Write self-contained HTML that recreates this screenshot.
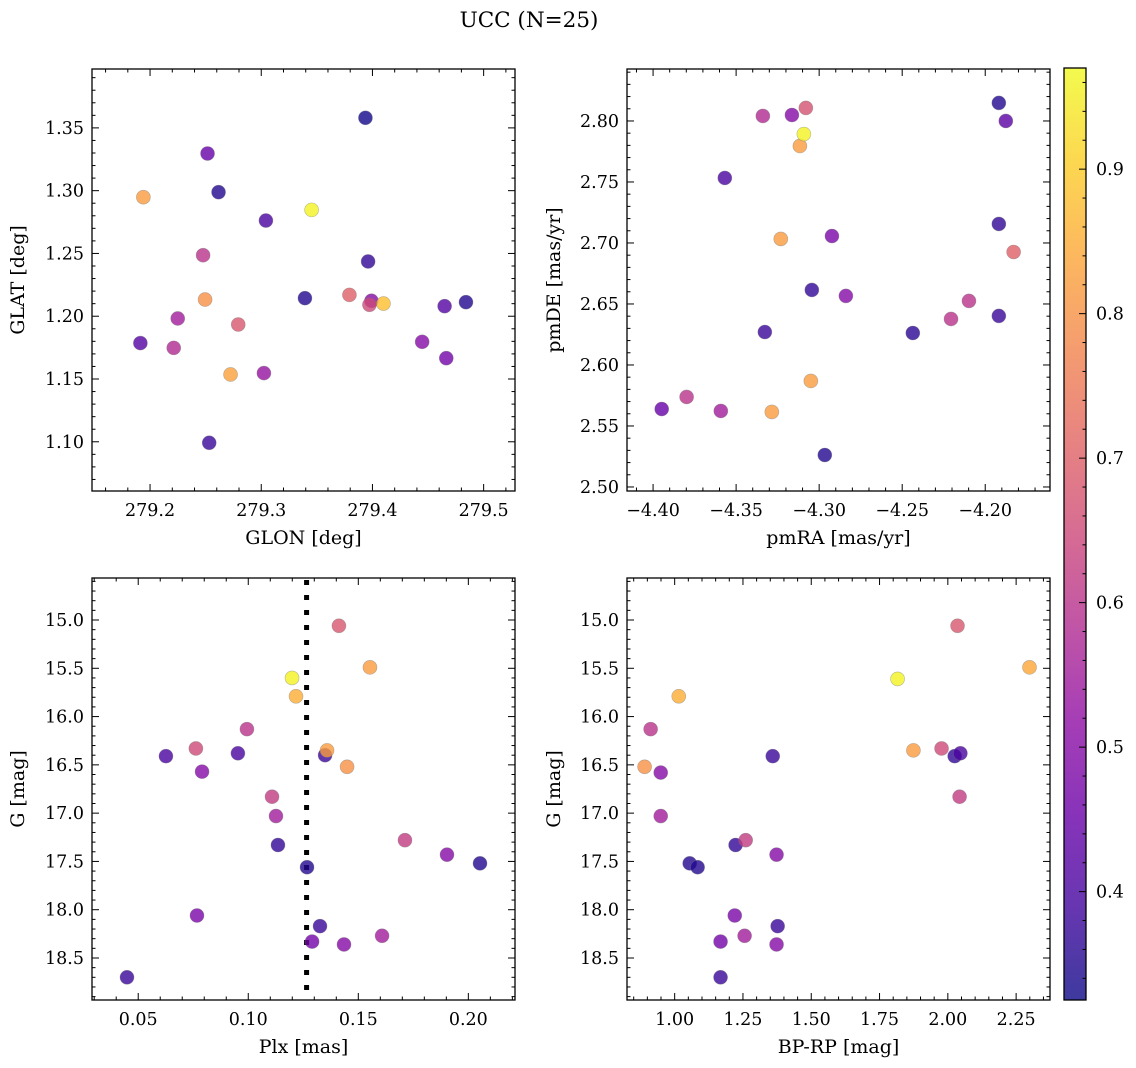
<!DOCTYPE html>
<html><head><meta charset="utf-8">
<style>
html,body{margin:0;padding:0;background:#fff;}
svg{display:block;font-family:"DejaVu Serif","Liberation Serif",serif;}
</style></head>
<body>
<svg id="fig" width="1136" height="1068" viewBox="0 0 1136 1068" xmlns="http://www.w3.org/2000/svg">
<text x="529" y="27" font-size="21.5" text-anchor="middle">UCC (N=25)</text>
</svg>
<script>
// ---- data ----
const glon = [279.3937,279.2517,279.2616,279.1940,279.3453,279.3042,279.2477,279.3961,279.2495,279.3393,279.3793,279.3991,279.3973,279.4099,279.4649,279.4841,279.2249,279.2793,279.1913,279.2213,279.4447,279.2724,279.3024,279.4664,279.2532];
const glat = [1.358,1.3296,1.2988,1.2948,1.2847,1.2762,1.2486,1.2436,1.2133,1.2144,1.2170,1.2123,1.2091,1.2101,1.2080,1.2112,1.1982,1.1934,1.1786,1.1748,1.1796,1.1536,1.1547,1.1666,1.0992];
const probA = [0.33,0.45,0.35,0.82,0.96,0.40,0.60,0.37,0.80,0.35,0.70,0.50,0.65,0.88,0.42,0.35,0.55,0.68,0.42,0.58,0.50,0.83,0.53,0.47,0.38];

const pmra = [-4.1918,-4.1876,-4.3080,-4.3164,-4.3339,-4.3092,-4.3116,-4.3568,-4.1918,-4.2923,-4.3231,-4.1829,-4.3044,-4.2839,-4.2098,-4.2206,-4.3327,-4.2436,-4.1918,-4.3050,-4.3285,-4.3948,-4.3798,-4.3592,-4.2966];
const pmde = [2.8148,2.800,2.8107,2.8049,2.8041,2.7893,2.7795,2.7533,2.7156,2.7057,2.7033,2.6926,2.6615,2.6566,2.6525,2.6377,2.6270,2.6262,2.6402,2.5869,2.5615,2.5639,2.5738,2.5623,2.5262];
const probB = [0.35,0.43,0.67,0.50,0.58,0.96,0.82,0.40,0.37,0.48,0.82,0.70,0.37,0.50,0.60,0.60,0.38,0.36,0.38,0.82,0.82,0.45,0.60,0.55,0.35];

const plx = [0.1412,0.1553,0.1199,0.1217,0.0994,0.0626,0.0762,0.0953,0.1358,0.1349,0.1449,0.0790,0.1108,0.1126,0.1135,0.1712,0.1903,0.2053,0.1267,0.0767,0.1326,0.1290,0.1435,0.1608,0.0449];
const gmagC = [15.06,15.49,15.60,15.79,16.13,16.41,16.33,16.38,16.35,16.40,16.52,16.57,16.83,17.03,17.33,17.28,17.43,17.52,17.56,18.06,18.17,18.33,18.36,18.27,18.70];
const probC = [0.68,0.82,0.96,0.85,0.60,0.40,0.65,0.40,0.82,0.38,0.80,0.50,0.62,0.55,0.37,0.62,0.50,0.35,0.35,0.48,0.38,0.47,0.50,0.55,0.38];
const plxLine = [0.1265];

const bprp = [2.299,2.0355,1.816,1.015,0.912,0.890,0.949,0.949,1.359,1.874,1.977,2.046,2.025,2.043,1.260,1.223,1.373,1.055,1.084,1.220,1.377,1.256,1.168,1.373,1.168];
const gmagD = [15.49,15.06,15.61,15.79,16.13,16.52,16.58,17.03,16.41,16.35,16.33,16.38,16.41,16.83,17.28,17.33,17.43,17.52,17.56,18.06,18.17,18.27,18.33,18.36,18.70];
const probD = [0.84,0.68,0.96,0.85,0.60,0.80,0.50,0.55,0.38,0.82,0.65,0.40,0.37,0.62,0.62,0.37,0.50,0.35,0.35,0.48,0.38,0.55,0.47,0.50,0.38];

const cbTicks = [0.4,0.5,0.6,0.7,0.8,0.9];

// ---- helpers ----
const NS="http://www.w3.org/2000/svg";
const svg=document.getElementById('fig');
const VMIN=0.325, VMAX=0.970;
const TICKFS=17.5, LABFS=19;
const plasma=[[13,8,135],[65,4,157],[106,0,168],[143,13,164],[177,42,144],[204,71,120],[225,100,98],[242,132,75],[252,166,54],[252,206,37],[240,249,33]];
function cmap(v){
  let t=(v-VMIN)/(VMAX-VMIN); t=Math.max(0,Math.min(1,t));
  const f=t*10, i=Math.min(9,Math.floor(f)), r=f-i;
  const a=plasma[i], b=plasma[i+1];
  return 'rgb('+[0,1,2].map(k=>Math.round(a[k]+(b[k]-a[k])*r)).join(',')+')';
}
function el(tag,attrs,parent){
  const e=document.createElementNS(NS,tag);
  for(const k in attrs) e.setAttribute(k,attrs[k]);
  (parent||svg).appendChild(e); return e;
}
function fmt(v,d){ const s=v.toFixed(d); return s.replace('-','\u2212'); }

function panel(cfg){
  const g=el('g',{});
  
  
  const {x0,x1,y0,y1}=cfg.box;
  const sx=v=>x0+(v-cfg.xlim[0])/(cfg.xlim[1]-cfg.xlim[0])*(x1-x0);
  const sy=cfg.yinv ? (v=>y0+(v-cfg.ylim[0])/(cfg.ylim[1]-cfg.ylim[0])*(y1-y0))
                    : (v=>y1-(v-cfg.ylim[0])/(cfg.ylim[1]-cfg.ylim[0])*(y1-y0));
  const tg=el('g',{stroke:'#000','stroke-width':1},g);
  
  
  const xmin=Math.min(...cfg.xlim), xmax=Math.max(...cfg.xlim);
  for(let k=Math.ceil(xmin/cfg.xminor-1e-6);k*cfg.xminor<=xmax+1e-9;k++){
    const v=k*cfg.xminor, px=sx(v);
    const isMaj=Math.abs(v/cfg.xmajor-Math.round(v/cfg.xmajor))<1e-6;
    const L=isMaj?7:3.5;
    el('line',{x1:px,x2:px,y1:y1,y2:y1-L},tg); el('line',{x1:px,x2:px,y1:y0,y2:y0+L},tg);
    if(isMaj){
      const t=el('text',{x:px,y:y1+25,'font-size':TICKFS,'text-anchor':'middle',stroke:'none',fill:'#000'},g);
       
      t.textContent=fmt(v,cfg.xdec);
    }
  }
  const ymin=Math.min(...cfg.ylim), ymax=Math.max(...cfg.ylim);
  for(let k=Math.ceil(ymin/cfg.yminor-1e-6);k*cfg.yminor<=ymax+1e-9;k++){
    const v=k*cfg.yminor, py=sy(v);
    const isMaj=Math.abs(v/cfg.ymajor-Math.round(v/cfg.ymajor))<1e-6;
    const L=isMaj?7:3.5;
    el('line',{x1:x0,x2:x0+L,y1:py,y2:py},tg); el('line',{x1:x1,x2:x1-L,y1:py,y2:py},tg);
    if(isMaj){
      const t=el('text',{x:x0-8,y:py+6,'font-size':TICKFS,'text-anchor':'end',fill:'#000'},g);
       
      t.textContent=fmt(v,cfg.ydec);
    }
  }
  if(cfg.vline){
    const l=el('line',{x1:sx(cfg.vline[0]),x2:sx(cfg.vline[0]),y1:y0,y2:y1,stroke:'#000','stroke-width':5,'stroke-dasharray':'5 10','stroke-dashoffset':-2},g);
     
  }
  const pg=el('g',{},g);
  
  
  const order=cfg.c.map((c,i)=>i).sort((a,b)=>cfg.c[a]-cfg.c[b]);
  order.forEach(i=>{
    const c=el('circle',{cx:sx(cfg.x[i]),cy:sy(cfg.y[i]),r:7,fill:cmap(cfg.c[i]),'fill-opacity':0.8,stroke:'#777','stroke-opacity':0.5,'stroke-width':0.6},pg);
    
    
  });
  const fr=el('rect',{x:x0,y:y0,width:x1-x0,height:y1-y0,fill:'none',stroke:'#000','stroke-width':1.3},g);
   
  const xl=el('text',{x:(x0+x1)/2,y:y1+53,'font-size':LABFS,'text-anchor':'middle'},g);
   
  xl.textContent=cfg.xlabel;
  const yl=el('text',{x:0,y:0,'font-size':LABFS,'text-anchor':'middle',transform:'translate('+cfg.ylx+','+((y0+y1)/2)+') rotate(-90)'},g);
   
  yl.textContent=cfg.ylabel;
}

panel({name:'glon-glat-panel',box:{x0:92,x1:515,y0:69,y1:491},xlim:[279.1478,279.5282],ylim:[1.0608,1.3969],
  x:glon,y:glat,c:probA,xmajor:0.1,xminor:0.02,ymajor:0.05,yminor:0.01,xdec:1,ydec:2,xlabel:'GLON [deg]',ylabel:'GLAT [deg]',ylx:24});
panel({name:'pm-panel',box:{x0:627,x1:1050,y0:69,y1:491},xlim:[-4.4157,-4.161],ylim:[2.4967,2.8426],
  x:pmra,y:pmde,c:probB,xmajor:0.05,xminor:0.01,ymajor:0.05,yminor:0.01,xdec:2,ydec:2,xlabel:'pmRA [mas/yr]',ylabel:'pmDE [mas/yr]',ylx:560});
panel({name:'plx-g-panel',box:{x0:92,x1:515,y0:578,y1:1000},xlim:[0.0290,0.2212],ylim:[14.565,18.935],yinv:true,vline:plxLine,
  x:plx,y:gmagC,c:probC,xmajor:0.05,xminor:0.01,ymajor:0.5,yminor:0.1,xdec:2,ydec:1,xlabel:'Plx [mas]',ylabel:'G [mag]',ylx:24});
panel({name:'cmd-panel',box:{x0:627,x1:1050,y0:578,y1:1000},xlim:[0.8255,2.374],ylim:[14.565,18.935],yinv:true,
  x:bprp,y:gmagD,c:probD,xmajor:0.25,xminor:0.05,ymajor:0.5,yminor:0.1,xdec:2,ydec:1,xlabel:'BP-RP [mag]',ylabel:'G [mag]',ylx:560});

(function(){
  const cx0=1064,cx1=1086,cy0=68,cy1=1000;
  const g=el('g',{});
   
  const defs=el('defs',{},g);
  const lg=el('linearGradient',{id:'cbg',x1:0,y1:1,x2:0,y2:0},defs);
  for(let i=0;i<=20;i++){
    const v=VMIN+(VMAX-VMIN)*i/20;
    el('stop',{offset:(i/20),'stop-color':cmap(v),'stop-opacity':0.8},lg);
  }
  el('rect',{x:cx0,y:cy0,width:cx1-cx0,height:cy1-cy0,fill:'url(#cbg)'},g);
  const sy=v=>cy1-(v-VMIN)/(VMAX-VMIN)*(cy1-cy0);
  for(let k=Math.ceil(VMIN/0.02);k*0.02<=VMAX;k++){
    const v=k*0.02, py=sy(v);
    const maj=Math.abs(v*10-Math.round(v*10))<1e-6;
    el('line',{x1:cx1,x2:cx1-(maj?7:3.5),y1:py,y2:py,stroke:'#000','stroke-width':1},g);
  }
  cbTicks.forEach(v=>{
    const t=el('text',{x:cx1+10,y:sy(v)+6,'font-size':TICKFS},g);
     
    t.textContent=v.toFixed(1);
  });
  el('rect',{x:cx0,y:cy0,width:cx1-cx0,height:cy1-cy0,fill:'none',stroke:'#000','stroke-width':1.3},g);
})();
</script>
</body></html>
